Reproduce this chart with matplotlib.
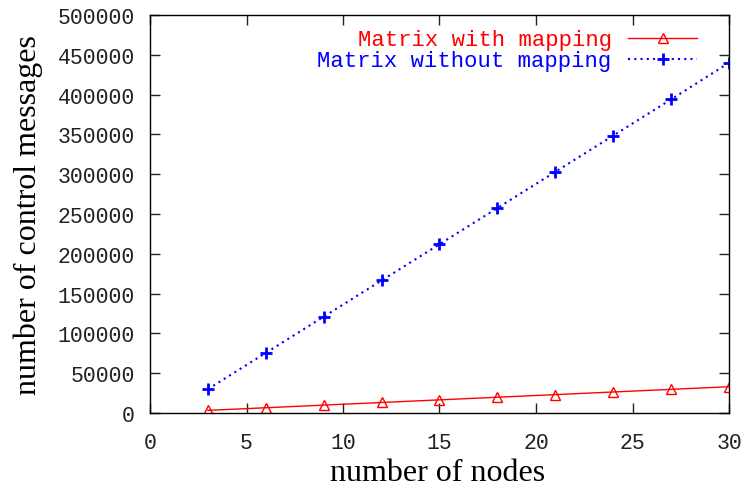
import matplotlib
matplotlib.use("Agg")
import matplotlib.pyplot as plt

nodes = [3, 6, 9, 12, 15, 18, 21, 24, 27, 30]
with_mapping = [3300, 6600, 9900, 13200, 16500, 19800, 23100, 26400, 29700, 33000]
without_mapping = [30000, 75500, 121000, 166500, 212000, 257500, 303000, 348500, 394000, 440000]
x_ticks = [0, 5, 10, 15, 20, 25, 30]
y_ticks = list(range(0, 500001, 50000))

mono = "Liberation Mono"
serif = "Liberation Serif"

W, H = 743, 489
fig = plt.figure(figsize=(W / 100, H / 100), dpi=100)
ax = fig.add_axes([150 / W, 75 / H, 579 / W, 398 / H])

ax.plot(nodes, with_mapping, color="#ff0000", lw=1.0, marker="^", ms=7,
        mfc="none", mec="#ff0000", mew=1.0, label="Matrix with mapping")
ax.plot(nodes, without_mapping, color="#0000ff", lw=1.5, ls=(0, (1, 2)),
        marker="+", ms=8, mew=2.0, label="Matrix without mapping")

ax.set_xlim(0, 30)
ax.set_ylim(0, 500000)
ax.set_xticks(x_ticks)
ax.set_yticks(y_ticks)
ax.set_xticklabels([str(v) for v in x_ticks], fontfamily=mono, fontsize=15.5)
ax.set_yticklabels([str(v) for v in y_ticks], fontfamily=mono, fontsize=15.5)
ax.tick_params(direction="in", length=7, width=1, top=True, right=True,
               colors="#222222", labelcolor="#222222")
ax.tick_params(axis="x", pad=14)
ax.tick_params(axis="y", pad=11)
for s in ax.spines.values():
    s.set_linewidth(1.0)

# axis titles placed in figure pixels
fig.text(438 / W, 1 / H, "number of nodes", fontfamily=serif,
         fontsize=23, ha="center", va="bottom")
fig.text(28 / W, (H - 215) / H, "number of control messages",
         fontfamily=serif, fontsize=23, rotation=90, ha="center", va="center")

leg = ax.legend(loc="upper right", bbox_to_anchor=(0.97, 1.0), frameon=False,
                markerfirst=False, labelcolor="linecolor", handlelength=3.1,
                handletextpad=0.75, borderaxespad=0.25, labelspacing=0.0,
                prop={"family": mono, "size": 16})

fig.savefig("out.png", dpi=100)
